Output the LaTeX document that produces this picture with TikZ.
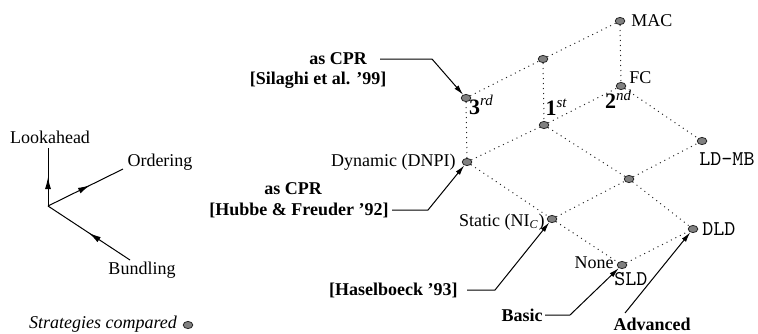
\documentclass[tikz,border=0pt]{standalone}
\usepackage{fontspec}
\setmainfont{Liberation Serif}
\usetikzlibrary{shapes.geometric,arrows.meta,decorations.markings}
\newcommand{\ordlabel}[2]{{\fontsize{11}{12}\selectfont\bfseries #1}\raisebox{4.2pt}{\fontsize{7.5}{8}\selectfont\itshape #2}}
\begin{document}
\begin{tikzpicture}[x=0.5pt,y=-0.5pt,
  font=\fontsize{9}{10}\selectfont,
  strat/.style={ellipse, draw=black!85, line width=0.4pt, fill=black!50,
    minimum width=4.8pt, minimum height=3.6pt, inner sep=0pt},
  lat/.style={dotted, line width=0.5pt, black!85},
  ann/.style={line width=0.5pt, -{Latex[length=5pt,width=2.6pt]}},
  citelabel/.style={font=\fontsize{9}{10}\selectfont\bfseries, inner sep=0pt},
  tag/.style={inner sep=0pt},
  mono/.style={font=\fontsize{10.5}{11}\selectfont\ttfamily, inner sep=0pt},
  midarrow/.style={decoration={markings,
      mark=at position #1 with {\arrow{Latex[length=6pt,width=3pt]}}},
    postaction=decorate},
]
\useasboundingbox (0,0) rectangle (758,333);

% ---- lattice of strategies ----
\node[strat] (mac)  at (620,21)  {};
\node[strat] (tm)   at (543,59)  {};
\node[strat] (r3)   at (466,98)  {};
\node[strat] (fc)   at (621,86)  {};
\node[strat] (n1)   at (544,125) {};
\node[strat] (ldmb) at (702,141) {};
\node[strat] (dyn)  at (467,162) {};
\node[strat] (mid)  at (629,179) {};
\node[strat] (sta)  at (552,219) {};
\node[strat] (dld)  at (693,229) {};
\node[strat] (sld)  at (622,265) {};

\draw[lat] (r3) -- (dyn);
\draw[lat] (r3) -- (tm);
\draw[lat] (tm) -- (mac);
\draw[lat] (tm) -- (n1);
\draw[lat] (mac) -- (fc);
\draw[lat] (dyn) -- (n1);
\draw[lat] (n1) -- (fc);
\draw[lat] (fc) -- (ldmb);
\draw[lat] (dyn) -- (sta);
\draw[lat] (n1) -- (mid);
\draw[lat] (sta) -- (mid);
\draw[lat] (mid) -- (ldmb);
\draw[lat] (mid) -- (dld);
\draw[lat] (sta) -- (sld);
\draw[lat] (sld) -- (dld);

% ---- node labels ----
\node[tag, anchor=west] (macl) at (631,21) {MAC};
\node[tag, anchor=west] (fcl)  at (629,78) {FC};
\node[tag] (secl)  at (618,99)  {\ordlabel{2}{nd}};
\node[tag] (firl)  at (556,107) {\ordlabel{1}{st}};
\node[tag] (thirl) at (481,105) {\ordlabel{3}{rd}};
\node[mono, anchor=west] (ldmbl) at (699,159) {LD-MB};
\node[tag, anchor=east] (dynl) at (456,162) {Dynamic (DNPI)};
\node[tag, anchor=east] (stal) at (545,222) {Static (NI\textsubscript{\itshape C})};
\node[tag, anchor=east] (nonel) at (614,263) {None};
\node[mono, anchor=west] (sldl) at (614,279) {SLD};
\node[mono, anchor=west] (dldl) at (702,229) {DLD};

% ---- references pointing into the lattice ----
\node[citelabel] (cprA) at (338,59) {as CPR};
\node[citelabel] (silA) at (318,80) {[Silaghi et al. '99]};
\coordinate (bendA) at (432,59);
\draw[ann] ([xshift=6.5pt]cprA.east) -- (bendA) -- (r3);

\node[citelabel] (cprB) at (293,189) {as CPR};
\node[citelabel, anchor=east] (hub) at (389,210) {[Hubbe \& Freuder '92]};
\coordinate (bendB) at (428,210);
\draw[ann] ([xshift=1.5pt]hub.east) -- (bendB) -- (dyn);

\node[citelabel, anchor=east] (has) at (458,290) {[Haselboeck '93]};
\coordinate (bendC) at (495,290);
\draw[ann] ([xshift=4.5pt]has.east) -- (bendC) -- (sta);

\node[citelabel, anchor=east] (bas) at (543,315) {Basic};
\coordinate (bendD) at (570,315);
\draw[ann] ([xshift=1pt]bas.east) -- (bendD) -- (sld);

\node[citelabel] (adv) at (652,324) {Advanced};
\coordinate (advtail) at (625,313);
\draw[ann] (advtail) -- (dld);

% ---- axes legend ----
\coordinate (o)  at (48,206);
\coordinate (la) at (48,148);
\coordinate (or) at (123,169);
\coordinate (bu) at (130,260);
\draw[line width=0.5pt, midarrow=0.5]  (o) -- (la);
\draw[line width=0.5pt, midarrow=0.56] (o) -- (or);
\draw[line width=0.5pt, midarrow=0.5]  (bu) -- (o);
\node[tag] (lal) at (50,137)  {Lookahead};
\node[tag] (orl) at (160,162) {Ordering};
\node[tag] (bul) at (142,270) {Bundling};

\node[tag] (sc) at (103,324) {\itshape Strategies compared};
\node[strat] (scdot) at (188,325) {};
\end{tikzpicture}
\end{document}
